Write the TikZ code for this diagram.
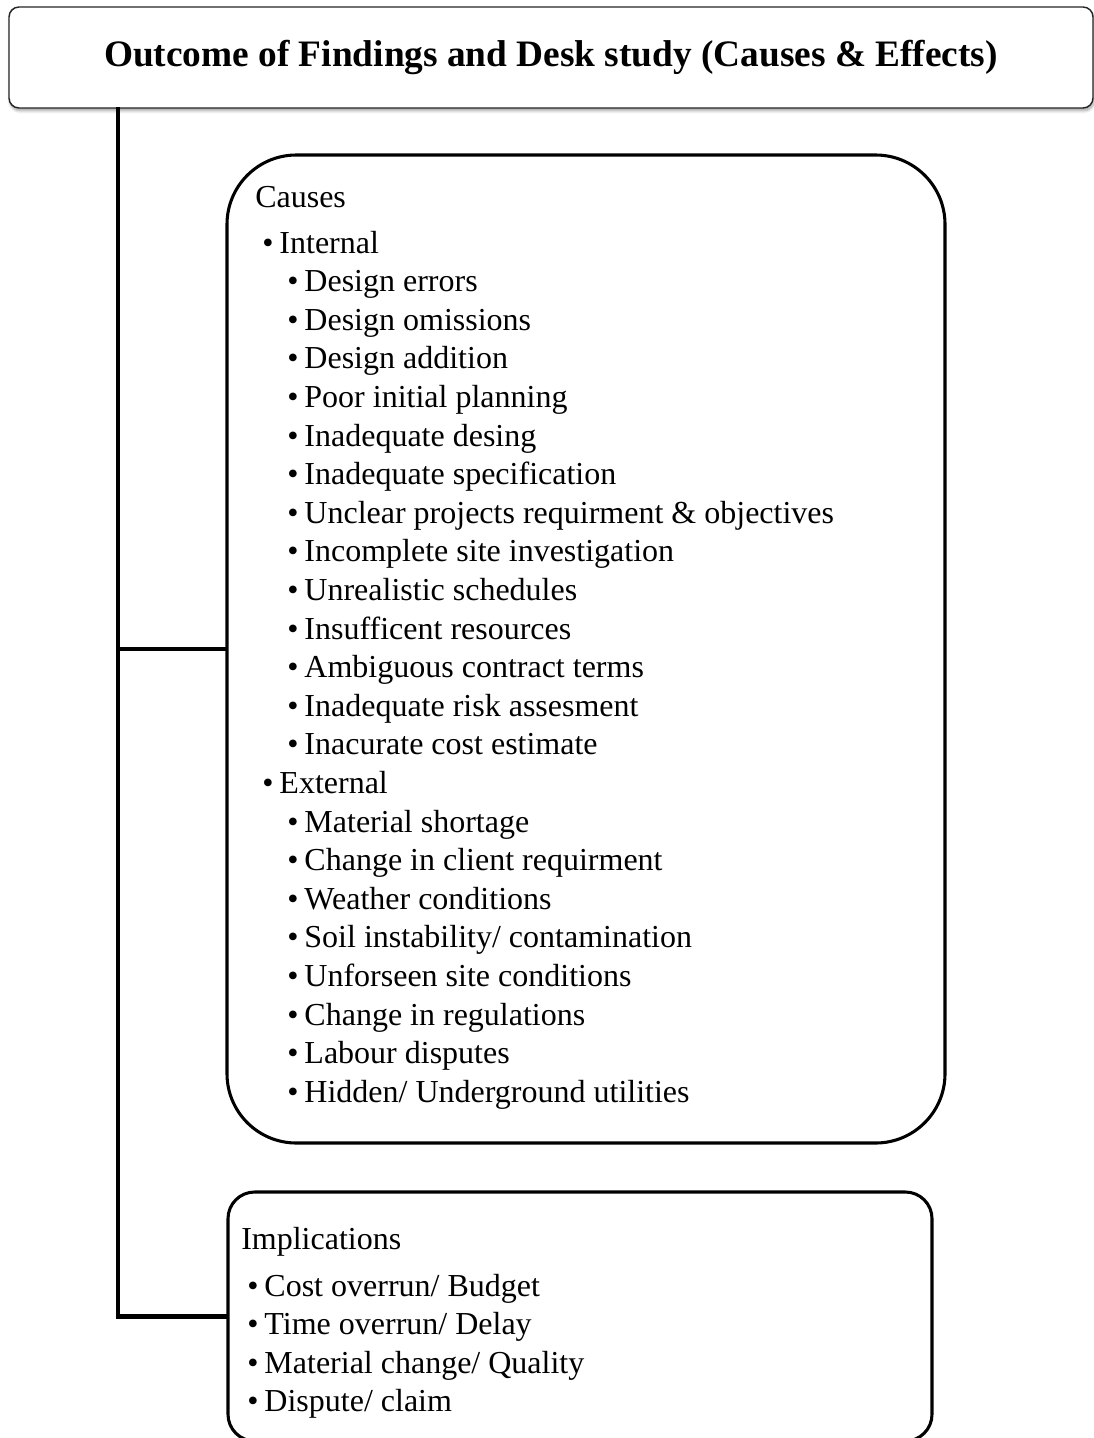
\documentclass[tikz,border=0pt]{standalone}
\usepackage{fontspec}
\setmainfont{Liberation Serif}
\usetikzlibrary{positioning,shadows.blur}
\tikzset{
  hdr/.style={rounded corners=7.5pt, draw=black!85, fill=white, line width=1.1pt,
    minimum width=813pt, minimum height=75.75pt, inner sep=0pt,
    font=\fontsize{28}{32}\selectfont\bfseries,
    blur shadow={shadow blur steps=6, shadow xshift=0.8pt, shadow yshift=-2.2pt,
      shadow blur radius=2pt, shadow opacity=35}},
  grp/.style={rounded corners=#1, draw=black, fill=white, line width=2.3pt, inner sep=0pt},
  grp/.default=52pt,
  trunk/.style={line width=3.2pt, line cap=rect},
  head/.style={anchor=base west, inner sep=0pt, font=\fontsize{24}{28}\selectfont},
  item/.style={head},
}
\newcommand{\bul}{\textbullet\hspace{4.5pt}}

\begin{document}
\begin{tikzpicture}[x=0.75pt,y=-0.75pt]
  \useasboundingbox (0,0) rectangle (1094,1438);
  \node[hdr] (title) at (551,57.5) {Outcome of Findings and Desk study (Causes \& Effects)};

  \node[grp, minimum width=538.5pt, minimum height=741pt] (causes) at (586,649) {};
  \node[grp=20pt, minimum width=528pt, minimum height=186.75pt] (impl) at (580,1316.5) {};

  % trunk and branches
  \coordinate (tk) at (118,0);
  \draw[trunk] (tk |- title.south) |- (impl.west);
  \draw[trunk] (tk |- causes.west) -- (causes.west);

  % causes list
  \node[head] (chead) at (255,207) {Causes};
  \foreach \lv/\t [count=\i from 0] in {1/Internal, 2/Design errors, 2/Design omissions,
      2/Design addition, 2/Poor initial planning, 2/Inadequate desing,
      2/Inadequate specification, 2/Unclear projects requirment \& objectives,
      2/Incomplete site investigation, 2/Unrealistic schedules,
      2/Insufficent resources, 2/Ambiguous contract terms,
      2/Inadequate risk assesment, 2/Inacurate cost estimate,
      1/External, 2/Material shortage, 2/Change in client requirment,
      2/Weather conditions, 2/{Soil instability/ contamination},
      2/Unforseen site conditions, 2/Change in regulations,
      2/Labour disputes, 2/{Hidden/ Underground utilities}} {
    \node[item] (c\i) at (237+25*\lv,253+38.6*\i) {\bul\t};
  }

  % implications list
  \node[head] (ihead) at (241,1249) {Implications};
  \foreach \t [count=\i from 0] in {Cost overrun/ Budget, Time overrun/ Delay,
      Material change/ Quality, Dispute/ claim} {
    \node[item] (m\i) at (247,1296+38.6*\i) {\bul\t};
  }
\end{tikzpicture}
\end{document}
